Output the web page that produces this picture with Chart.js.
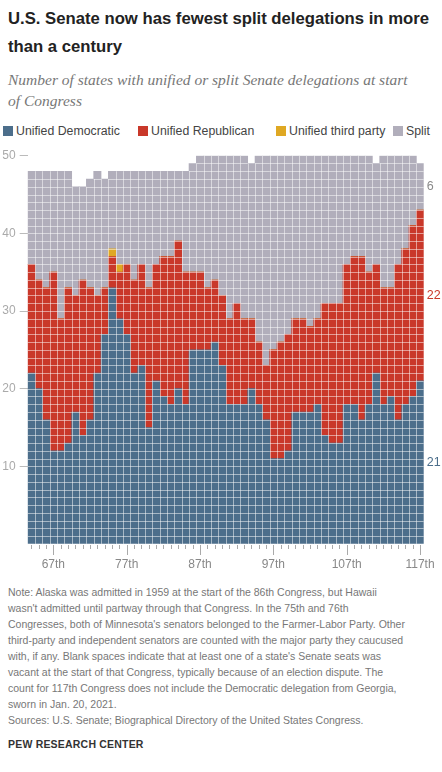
<!DOCTYPE html>
<html>
<head>
  <title>Senate delegations</title>
  <style>
    body {
      margin: 0;
      padding: 0;
      background-color: #fff;
      font-family: "Liberation Sans", Arial, sans-serif;
    }
    .page {
      position: relative;
      width: 442px;
      height: 772px;
      overflow: hidden;
    }
    .title {
      position: absolute;
      left: 8px;
      top: 5px;
      font-size: 16.7px;
      font-weight: bold;
      line-height: 28px;
      color: #222;
      white-space: nowrap;
    }
    .subtitle {
      position: absolute;
      left: 8px;
      top: 69px;
      font-family: "Liberation Serif", serif;
      font-style: italic;
      font-size: 15.5px;
      line-height: 21px;
      color: #777;
      white-space: nowrap;
    }
    .legend {
      position: absolute;
      top: 124px;
      left: 0;
      font-size: 12.3px;
      color: #444;
    }
    .legend span {
      position: absolute;
      white-space: nowrap;
      line-height: 14px;
    }
    .legend i {
      position: absolute;
      width: 10px;
      height: 10px;
      top: 2px;
    }
    canvas {
      position: absolute;
      left: 0;
      top: 140px;
    }
    .note {
      position: absolute;
      left: 8px;
      top: 584px;
      font-size: 10.5px;
      line-height: 16px;
      color: #777;
      white-space: nowrap;
    }
    .brand {
      position: absolute;
      left: 8px;
      top: 738px;
      font-size: 10.5px;
      font-weight: bold;
      letter-spacing: 0.2px;
      color: #333;
    }
  </style>
</head>
<body>
<div class="page">
  <div class="title">U.S. Senate now has fewest split delegations in more<br>than a century</div>
  <div class="subtitle">Number of states with unified or split Senate delegations at start<br>of Congress</div>

  <div class="legend">
    <i style="left:3px;background:#4c6e8b"></i><span style="left:16px">Unified Democratic</span>
    <i style="left:138px;background:#c9382a"></i><span style="left:151px">Unified Republican</span>
    <i style="left:276px;background:#dfa823"></i><span style="left:289px">Unified third party</span>
    <i style="left:393px;background:#b1aebb"></i><span style="left:406px">Split</span>
  </div>

  <canvas id="senateChart" width="442" height="435"></canvas>

  <div class="note">Note: Alaska was admitted in 1959 at the start of the 86th Congress, but Hawaii<br>wasn't admitted until partway through that Congress. In the 75th and 76th<br>Congresses, both of Minnesota's senators belonged to the Farmer-Labor Party. Other<br>third-party and independent senators are counted with the major party they caucused<br>with, if any. Blank spaces indicate that at least one of a state's Senate seats was<br>vacant at the start of that Congress, typically because of an election dispute. The<br>count for 117th Congress does not include the Democratic delegation from Georgia,<br>sworn in Jan. 20, 2021.<br>Sources: U.S. Senate; Biographical Directory of the United States Congress.</div>
  <div class="brand">PEW RESEARCH CENTER</div>
</div>

<script src="https://cdn.jsdelivr.net/npm/chart.js"></script>
<script>
  // Congresses 64th to 117th
  const congress = [64, 65, 66, 67, 68, 69, 70, 71, 72, 73,
                    74, 75, 76, 77, 78, 79, 80, 81, 82, 83,
                    84, 85, 86, 87, 88, 89, 90, 91, 92, 93,
                    94, 95, 96, 97, 98, 99, 100, 101, 102, 103,
                    104, 105, 106, 107, 108, 109, 110, 111, 112, 113,
                    114, 115, 116, 117];

  // number of states per type
  const unifiedDem = [22, 20, 16, 12, 12, 13, 17, 14, 16, 22,
                      27, 33, 29, 27, 22, 23, 15, 21, 19, 18,
                      20, 18, 25, 25, 25, 26, 23, 18, 18, 18,
                      20, 18, 16, 11, 11, 12, 17, 17, 17, 18,
                      14, 13, 13, 18, 18, 16, 18, 22, 18, 19,
                      16, 18, 19, 21];
  const unifiedRep = [14, 14, 17, 23, 17, 20, 15, 20, 17, 10,
                      6, 4, 6, 9, 12, 13, 18, 15, 18, 19,
                      19, 17, 10, 10, 8, 8, 9, 11, 13, 11,
                      9, 8, 7, 14, 15, 15, 12, 12, 11, 11,
                      17, 18, 18, 18, 19, 21, 17, 14, 15, 14,
                      20, 20, 22, 22];
  const unifiedThird = [0, 0, 0, 0, 0, 0, 0, 0, 0, 0,
                        0, 1, 1, 0, 0, 0, 0, 0, 0, 0,
                        0, 0, 0, 0, 0, 0, 0, 0, 0, 0,
                        0, 0, 0, 0, 0, 0, 0, 0, 0, 0,
                        0, 0, 0, 0, 0, 0, 0, 0, 0, 0,
                        0, 0, 0, 0];
  const split = [12, 14, 15, 13, 19, 15, 14, 12, 14, 16,
                 14, 10, 12, 12, 14, 12, 15, 12, 11, 11,
                 9, 13, 14, 15, 17, 16, 18, 21, 19, 21,
                 20, 24, 27, 25, 24, 23, 21, 21, 22, 21,
                 19, 19, 19, 14, 13, 13, 15, 13, 17, 17,
                 14, 12, 9, 6];

  const yTicks = [10, 20, 30, 40, 50];
  const majorTicks = [67, 77, 87, 97, 107, 117];

  const colors = {
    dem: '#4c6e8b',
    rep: '#c9382a',
    third: '#dfa823',
    split: '#b1aebb'
  };

  // thin light lines so every state shows as its own cell
  const cellGrid = {
    id: 'cellGrid',
    afterDatasetsDraw(chart) {
      const x = chart.scales.x, y = chart.scales.y, ctx = chart.ctx;
      const half = (x.getPixelForValue(1) - x.getPixelForValue(0)) / 2;
      const totals = congress.map((c, i) => unifiedDem[i] + unifiedRep[i] + unifiedThird[i] + split[i]);
      ctx.save();
      ctx.strokeStyle = 'rgba(255,255,255,0.5)';
      ctx.lineWidth = 1;
      ctx.beginPath();
      totals.forEach((t, i) => {
        const left = x.getPixelForValue(i) - half;
        const right = x.getPixelForValue(i) + half;
        for (let k = 1; k < t; k++) {
          const py = Math.round(y.getPixelForValue(k)) + 0.5;
          ctx.moveTo(left, py);
          ctx.lineTo(right, py);
        }
        if (i > 0) {
          const h = Math.min(t, totals[i - 1]);
          const px = Math.round(left) + 0.5;
          ctx.moveTo(px, y.getPixelForValue(0));
          ctx.lineTo(px, y.getPixelForValue(h));
        }
      });
      ctx.stroke();

      // x tick marks
      ctx.strokeStyle = '#aaa';
      ctx.beginPath();
      congress.forEach((c, i) => {
        const px = Math.round(x.getPixelForValue(i)) + 0.5;
        const len = majorTicks.includes(c) ? 11 : 5;
        ctx.moveTo(px, chart.chartArea.bottom + 1);
        ctx.lineTo(px, chart.chartArea.bottom + len);
      });
      ctx.stroke();

      // labels for the last Congress
      const last = congress.length - 1;
      const segs = [
        [0, unifiedDem[last], colors.dem],
        [unifiedDem[last], unifiedDem[last] + unifiedRep[last], colors.rep],
        [unifiedDem[last] + unifiedRep[last] + unifiedThird[last],
         unifiedDem[last] + unifiedRep[last] + unifiedThird[last] + split[last], '#8a8a8a']
      ];
      ctx.font = '12.5px "Liberation Sans", Arial, sans-serif';
      ctx.textAlign = 'left';
      ctx.textBaseline = 'middle';
      segs.forEach(s => {
        ctx.fillStyle = s[2];
        ctx.fillText(String(s[1] - s[0]), chart.chartArea.right + 3, y.getPixelForValue((s[0] + s[1]) / 2));
      });
      ctx.restore();
    }
  };

  const ctx = document.getElementById('senateChart').getContext('2d');
  new Chart(ctx, {
    type: 'bar',
    data: {
      labels: congress.map(c => c + 'th'),
      datasets: [
        { label: 'Unified Democratic', data: unifiedDem, backgroundColor: colors.dem },
        { label: 'Unified Republican', data: unifiedRep, backgroundColor: colors.rep },
        { label: 'Unified third party', data: unifiedThird, backgroundColor: colors.third },
        { label: 'Split', data: split, backgroundColor: colors.split }
      ]
    },
    options: {
      responsive: false,
      animation: false,
      events: [],
      layout: { padding: { top: 15.7, right: 18.3, left: 0, bottom: 0 } },
      datasets: {
        bar: { barPercentage: 1, categoryPercentage: 1, borderWidth: 0 }
      },
      plugins: {
        legend: { display: false },
        tooltip: { enabled: false }
      },
      scales: {
        x: {
          stacked: true,
          grid: { display: false, drawTicks: true, tickLength: 10 },
          border: { display: false },
          ticks: {
            autoSkip: false,
            maxRotation: 0,
            padding: 3,
            color: '#888',
            font: { size: 12, family: '"Liberation Sans", Arial, sans-serif' },
            callback: function (val, idx) {
              return majorTicks.includes(congress[idx]) ? congress[idx] + 'th' : '';
            }
          },
          afterFit: function (scale) { scale.height = 31; }
        },
        y: {
          stacked: true,
          min: 0,
          max: 50,
          afterBuildTicks: function (scale) {
            scale.ticks = [0].concat(yTicks).map(v => ({ value: v }));
          },
          grid: {
            drawOnChartArea: false,
            tickLength: 8,
            color: c => (c.tick && c.tick.value === 0) ? 'rgba(0,0,0,0)' : '#bbb'
          },
          border: { display: false },
          ticks: {
            padding: 4,
            color: '#aaa',
            font: { size: 12, family: '"Liberation Sans", Arial, sans-serif' },
            callback: v => v === 0 ? '' : v
          },
          afterFit: function (scale) { scale.width = 27.7; }
        }
      }
    },
    plugins: [cellGrid]
  });
</script>
</body>
</html>
